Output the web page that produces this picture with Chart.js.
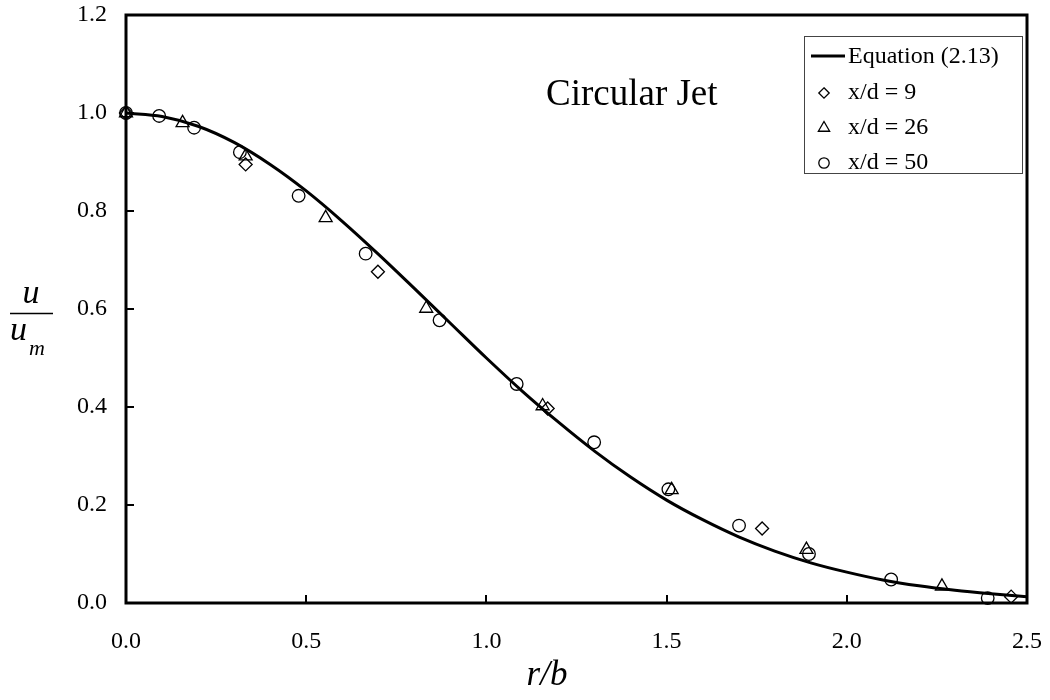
<!DOCTYPE html>
<html>
<head>
<meta charset="utf-8">
<title>Circular Jet velocity profile</title>
<script src="https://cdn.jsdelivr.net/npm/chart.js@4.4.1/dist/chart.umd.min.js"></script>
<style>
  html, body { margin: 0; padding: 0; background: #ffffff; }
  #wrap { width: 1050px; height: 700px; position: relative; }
</style>
</head>
<body>
<div id="wrap"><canvas id="c" width="1050" height="700"></canvas></div>
<script>
// Equation (2.13) profile, u/um against r/b
const curveR = [0, 0.1, 0.2, 0.3, 0.4, 0.5, 0.6, 0.7, 0.8, 0.9, 1.0, 1.1, 1.2,
                1.3, 1.4, 1.5, 1.6, 1.7, 1.8, 1.9, 2.0, 2.1, 2.2, 2.3, 2.4, 2.5];
const curveU = [1.000, 0.993, 0.973, 0.940, 0.895, 0.841, 0.779, 0.712, 0.642, 0.571, 0.500, 0.432, 0.369,
                0.310, 0.257, 0.210, 0.170, 0.135, 0.106, 0.082, 0.063, 0.047, 0.035, 0.026, 0.019, 0.013];

// Measurements, x/d = 9
const r9 = [0, 0.332, 0.699, 1.170, 1.765, 2.456];
const u9 = [1.000, 0.895, 0.676, 0.397, 0.152, 0.013];

// Measurements, x/d = 26
const r26 = [0, 0.157, 0.332, 0.554, 0.833, 1.156, 1.514, 1.888, 2.264];
const u26 = [1.000, 0.980, 0.912, 0.786, 0.601, 0.402, 0.231, 0.109, 0.034];

// Measurements, x/d = 50
const r50 = [0, 0.092, 0.189, 0.316, 0.479, 0.665, 0.870, 1.084, 1.299, 1.505, 1.701, 1.895, 2.123, 2.391];
const u50 = [1.000, 0.994, 0.970, 0.920, 0.831, 0.713, 0.577, 0.447, 0.328, 0.232, 0.158, 0.100, 0.048, 0.010];

const xTicks = [0, 0.5, 1.0, 1.5, 2.0, 2.5];
const yTicks = [0, 0.2, 0.4, 0.6, 0.8, 1.0, 1.2];
const seriesLabels = ['Equation (2.13)', 'x/d = 9', 'x/d = 26', 'x/d = 50'];
const chartTitle = 'Circular Jet';

const SERIF = "'Liberation Serif', 'Times New Roman', Times, serif";

function pairs(xs, ys) { return xs.map((x, i) => ({ x: x, y: ys[i] })); }

// outline-only marker shapes (used for the legend keys)
function marker(ctx, style, x, y, r) {
  ctx.beginPath();
  if (style === 'rectRot') {
    ctx.moveTo(x, y - r); ctx.lineTo(x + r, y); ctx.lineTo(x, y + r); ctx.lineTo(x - r, y); ctx.closePath();
  } else if (style === 'triangle') {
    const h = r * Math.sqrt(3) / 2;
    ctx.moveTo(x, y - r); ctx.lineTo(x + h, y + r / 2); ctx.lineTo(x - h, y + r / 2); ctx.closePath();
  } else {
    ctx.arc(x, y, r, 0, Math.PI * 2);
  }
  ctx.stroke();
}

// keep the plot box at a fixed place: drop the extra room scales reserve for edge labels
function noEdgePadding(s) {
  s.paddingLeft = 0; s.paddingRight = 0; s.paddingTop = 0; s.paddingBottom = 0;
}

const framePlugin = {
  id: 'frame',
  beforeDatasetsDraw(chart) {
    const { ctx, chartArea: a, scales } = chart;
    ctx.save();
    ctx.strokeStyle = '#000';
    ctx.lineWidth = 3;
    ctx.strokeRect(a.left, a.top, a.right - a.left, a.bottom - a.top);
    // inward tick marks on bottom and left axes
    ctx.lineWidth = 2;
    ctx.beginPath();
    scales.x.ticks.forEach(t => {
      const px = Math.round(scales.x.getPixelForValue(t.value));
      ctx.moveTo(px, a.bottom); ctx.lineTo(px, a.bottom - 8);
    });
    scales.y.ticks.forEach(t => {
      const py = Math.round(scales.y.getPixelForValue(t.value));
      ctx.moveTo(a.left, py); ctx.lineTo(a.left + 8, py);
    });
    ctx.stroke();
    ctx.restore();
  },
  afterDraw(chart) {
    const { ctx } = chart;
    ctx.save();
    ctx.fillStyle = '#000';
    ctx.strokeStyle = '#000';

    // chart title inside the plot
    ctx.font = '37px ' + SERIF;
    ctx.textBaseline = 'alphabetic';
    ctx.textAlign = 'left';
    ctx.fillText(chartTitle, 546, 105);

    // x axis title r/b
    ctx.font = 'italic 35px ' + SERIF;
    ctx.textAlign = 'center';
    ctx.fillText('r/b', 547, 685);

    // y axis title: u over u_m
    ctx.font = 'italic 34px ' + SERIF;
    ctx.textAlign = 'center';
    ctx.fillText('u', 31, 303);
    ctx.lineWidth = 1.5;
    ctx.beginPath(); ctx.moveTo(10, 313.5); ctx.lineTo(53, 313.5); ctx.stroke();
    ctx.textAlign = 'left';
    ctx.fillText('u', 10, 340);
    ctx.font = 'italic 22px ' + SERIF;
    ctx.fillText('m', 29, 355);

    // legend box
    const ds = chart.data.datasets;
    const box = { x: 804.5, y: 36.5, w: 218, h: 137 };
    ctx.lineWidth = 1;
    ctx.strokeStyle = '#444';
    ctx.strokeRect(box.x, box.y, box.w, box.h);
    const rows = [56, 92, 127, 162];
    ctx.font = '24px ' + SERIF;
    ctx.textBaseline = 'middle';
    ctx.fillStyle = '#000';
    ds.forEach((d, i) => {
      const y = rows[i];
      ctx.strokeStyle = d.borderColor;
      if (d.showLine) {
        ctx.lineWidth = d.borderWidth;
        ctx.beginPath(); ctx.moveTo(811, y); ctx.lineTo(845, y); ctx.stroke();
      } else {
        ctx.lineWidth = 1.3;
        marker(ctx, d.pointStyle, 824, y + 1, d.pointStyle === 'triangle' ? 6.5 : 5.2);
      }
      ctx.textAlign = 'left';
      ctx.fillText(d.label, 848, y + 1);
    });
    ctx.restore();
  }
};

const scatterStyle = (style, r) => ({
  type: 'scatter',
  showLine: false,
  pointStyle: style,
  pointRadius: r,
  pointHoverRadius: r,
  pointBorderWidth: 1.3,
  borderColor: '#000',
  backgroundColor: 'rgba(0,0,0,0)',
  pointBackgroundColor: 'rgba(0,0,0,0)',
  clip: false
});

new Chart(document.getElementById('c'), {
  type: 'scatter',
  data: {
    datasets: [
      {
        type: 'line',
        label: seriesLabels[0],
        data: pairs(curveR, curveU),
        showLine: true,
        borderColor: '#000',
        borderWidth: 3,
        pointRadius: 0,
        pointHoverRadius: 0,
        cubicInterpolationMode: 'monotone',
        fill: false,
        order: 4
      },
      Object.assign({ label: seriesLabels[1], data: pairs(r9, u9), order: 3 }, scatterStyle('rectRot', 6.5)),
      Object.assign({ label: seriesLabels[2], data: pairs(r26, u26), order: 2 }, scatterStyle('triangle', 7.5)),
      Object.assign({ label: seriesLabels[3], data: pairs(r50, u50), order: 1 }, scatterStyle('circle', 6.3))
    ]
  },
  options: {
    responsive: false,
    animation: false,
    events: [],
    layout: { padding: { left: 0, right: 23, top: 15, bottom: 0 } },
    plugins: {
      legend: { display: false },
      title: { display: false },
      tooltip: { enabled: false }
    },
    scales: {
      x: {
        type: 'linear',
        min: 0, max: 2.5,
        afterBuildTicks: s => { s.ticks = xTicks.map(v => ({ value: v })); },
        afterFit: s => { s.height = 97; noEdgePadding(s); },
        grid: { display: false, drawTicks: false },
        border: { display: false },
        ticks: {
          padding: 24,
          color: '#000',
          font: { family: SERIF, size: 24 },
          maxRotation: 0,
          callback: v => Number(v).toFixed(1)
        }
      },
      y: {
        type: 'linear',
        min: 0, max: 1.2,
        afterBuildTicks: s => { s.ticks = yTicks.map(v => ({ value: v })); },
        afterFit: s => { s.width = 126; noEdgePadding(s); },
        grid: { display: false, drawTicks: false },
        border: { display: false },
        ticks: {
          padding: 19,
          color: '#000',
          font: { family: SERIF, size: 24 },
          callback: v => Number(v).toFixed(1)
        }
      }
    }
  },
  plugins: [framePlugin]
});
</script>
</body>
</html>
